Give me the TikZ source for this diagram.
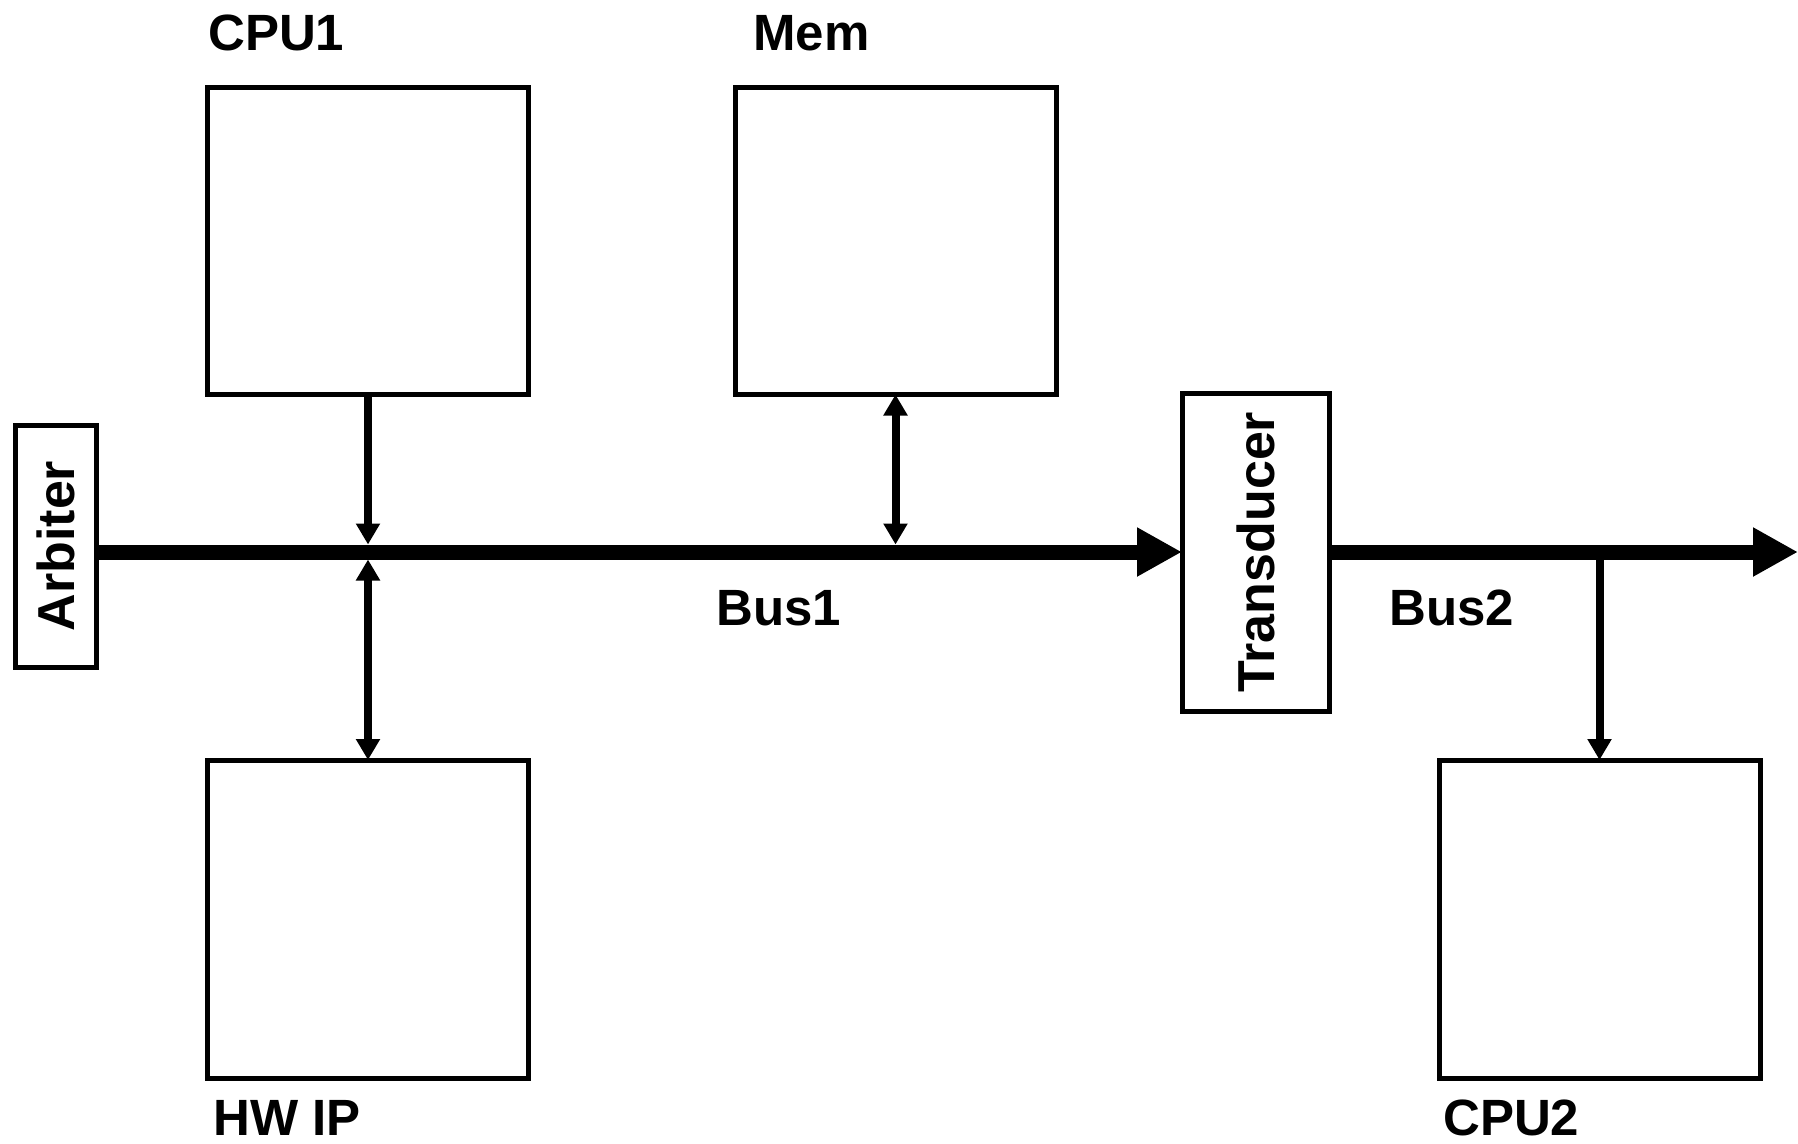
\documentclass[tikz,border=0pt]{standalone}
\usepackage{fontspec}
\setmainfont{Liberation Sans}
\usetikzlibrary{arrows.meta}
\begin{document}
\begin{tikzpicture}[x=1pt,y=-1pt,
  block/.style={draw,line width=5pt,inner sep=0pt,outer sep=0pt},
  label/.style={font=\fontsize{51}{54}\selectfont\bfseries,inner sep=0pt},
  vlabel/.style={font=\fontsize{52}{56}\selectfont\bfseries,inner sep=0pt,rotate=90},
  link/.style={line width=8pt},
  tip/.style={-{Triangle[length=21pt,width=23pt]}},
  tips/.style={{Triangle[length=21pt,width=23pt]}-{Triangle[length=21pt,width=23pt]}},
  bus/.style={line width=15pt,-{Triangle[length=45pt,width=46pt]}}]
\useasboundingbox (0,0) rectangle (1798,1143);

% blocks
\node[block,minimum width=321pt,minimum height=307pt] (cpu1) at (368,241) {};
\node[block,minimum width=321pt,minimum height=307pt] (mem) at (895.5,241) {};
\node[block,minimum width=321pt,minimum height=318pt] (hwip) at (368,919) {};
\node[block,minimum width=321pt,minimum height=318pt] (cpu2) at (1599.5,919) {};
\node[block,minimum width=81pt,minimum height=242pt] (arb) at (55.5,546) {};
\node[block,minimum width=147pt,minimum height=318pt] (trans) at (1255.5,552) {};

% block texts
\node[label,anchor=base west] (tcpu1) at (208,50) {CPU1};
\node[label,anchor=base west] (tmem) at (753,50) {Mem};
\node[label,anchor=base west] (thwip) at (213,1135) {HW IP};
\node[label,anchor=base west] (tcpu2) at (1443,1135) {CPU2};
\node[vlabel] (tarb) at (arb.center) {Arbiter};
\node[vlabel] (ttrans) at (trans.center) {Transducer};
\node[label,anchor=base west] (tbus1) at (716,625) {Bus1};
\node[label,anchor=base west] (tbus2) at (1389,625) {Bus2};

% bus edges and ends
\coordinate (bustop) at (0,544.5);
\coordinate (busbot) at (0,559.5);
\coordinate (busend) at (1798,552);

% buses
\draw[bus] (arb.east |- trans.west) -- (trans.west);
\draw[bus] (trans.east) -- (busend);

% taps
\draw[link,tip] (cpu1.south) -- (cpu1.south |- bustop);
\draw[link,tips] (hwip.north |- busbot) -- (hwip.north);
\draw[link,tips] (mem.south |- bustop) -- (mem.south);
\draw[link,tip] (cpu2.north |- busend) -- (cpu2.north);
\end{tikzpicture}
\end{document}
